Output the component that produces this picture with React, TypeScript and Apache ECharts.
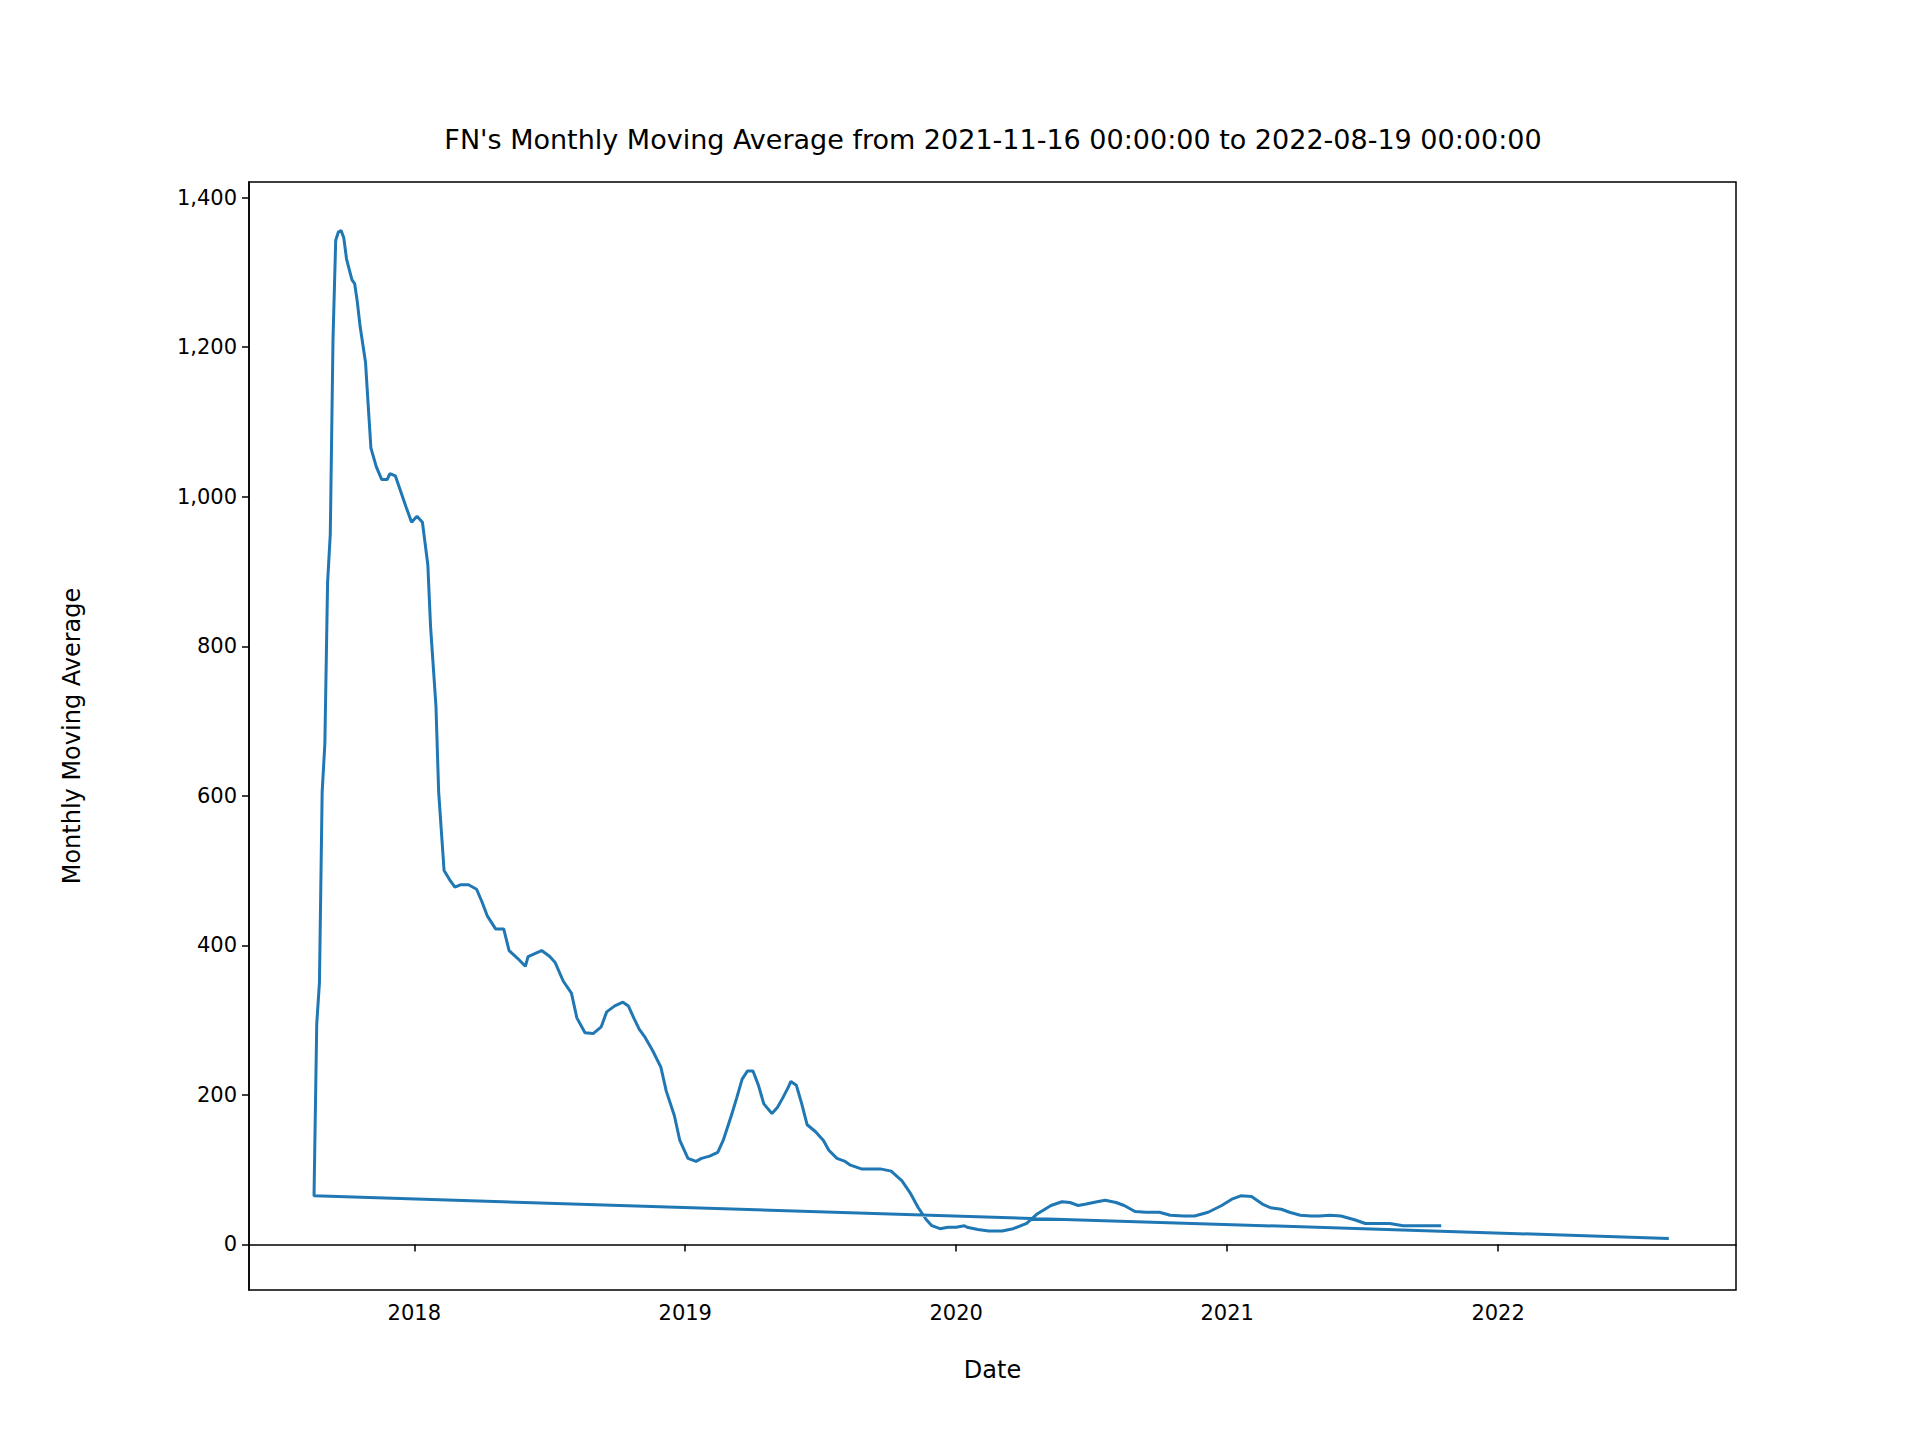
import React, { useEffect, useRef } from "react";
import * as echarts from "echarts";

const years = [2017.63,2017.64,2017.65,2017.66,2017.67,2017.68,2017.69,2017.70,2017.71,2017.72,2017.73,2017.74,2017.75,2017.77,2017.78,2017.79,2017.80,2017.82,2017.83,2017.84,2017.86,2017.88,2017.90,2017.91,2017.93,2017.95,2017.97,2017.99,2018.01,2018.03,2018.05,2018.06,2018.08,2018.09,2018.11,2018.13,2018.15,2018.17,2018.20,2018.23,2018.25,2018.27,2018.30,2018.33,2018.35,2018.38,2018.41,2018.42,2018.47,2018.50,2018.52,2018.55,2018.58,2018.60,2018.63,2018.66,2018.69,2018.71,2018.74,2018.77,2018.79,2018.81,2018.83,2018.85,2018.88,2018.91,2018.93,2018.96,2018.98,2019.01,2019.04,2019.06,2019.09,2019.12,2019.14,2019.17,2019.19,2019.21,2019.23,2019.25,2019.27,2019.29,2019.32,2019.34,2019.36,2019.38,2019.39,2019.41,2019.43,2019.45,2019.48,2019.51,2019.53,2019.56,2019.59,2019.61,2019.65,2019.69,2019.72,2019.76,2019.80,2019.83,2019.86,2019.89,2019.91,2019.94,2019.97,2020.00,2020.03,2020.04,2020.08,2020.12,2020.17,2020.21,2020.26,2020.30,2020.35,2020.39,2020.42,2020.45,2020.48,2020.52,2020.55,2020.59,2020.62,2020.66,2020.70,2020.75,2020.79,2020.84,2020.88,2020.93,2020.98,2021.02,2021.05,2021.09,2021.13,2021.16,2021.20,2021.23,2021.27,2021.31,2021.34,2021.38,2021.42,2021.47,2021.51,2021.56,2021.60,2021.65,2021.72,2021.79,2021.92,2022.63];
const values = [65,295,350,605,670,885,950,1210,1343,1354,1356,1346,1318,1290,1285,1260,1228,1180,1122,1065,1040,1023,1023,1031,1028,1007,986,966,974,966,909,827,720,605,500,488,478,481,481,475,458,439,422,422,393,383,372,385,393,385,377,352,336,303,283,282,291,311,319,324,319,303,288,278,259,237,205,172,139,115,111,115,118,123,139,172,196,221,232,232,213,188,175,183,196,210,218,213,188,160,151,139,126,115,111,106,101,101,101,98,85,69,49,33,25,21,23,23,25,23,20,18,18,21,28,41,52,57,56,52,54,57,59,56,52,44,43,43,39,38,38,43,52,61,65,64,54,49,47,43,39,38,38,39,38,33,28,28,28,25,25,25];
const startYear = 2022.63;
const startValue = 8;
const yTicks = [0,200,400,600,800,1000,1200,1400];
const xTickYears = [2018,2019,2020,2021,2022];

export default function App() {
  const ref = useRef<HTMLDivElement>(null);
  useEffect(() => {
    const chart = echarts.init(ref.current!, null, { renderer: "svg" });
    const data = [[startYear, startValue], ...years.map((y, i) => [y, values[i]])];
    const font = "DejaVu Sans";
    chart.setOption({
      animation: false,
      grid: { left: 241, right: 192, top: 174, bottom: 158, show: true, borderColor: "#000", borderWidth: 1.5, backgroundColor: "transparent" },
      graphic: [
        { type: "text", x: 985, y: 131, style: { text: "FN's Monthly Moving Average from 2021-11-16 00:00:00 to 2022-08-19 00:00:00", font: `27px '${font}'`, fill: "#000", textAlign: "center", textVerticalAlign: "middle" } },
      ],
      xAxis: {
        type: "value", min: 2017.39, max: 2022.878,
        name: "Date", nameLocation: "middle", nameGap: 68, nameTextStyle: { fontSize: 24, fontFamily: font, color: "#000" },
        splitLine: { show: false },
        axisLine: { lineStyle: { color: "#000", width: 1.5 } },
        axisTick: { show: true, length: 7, lineStyle: { color: "#000", width: 1.5 }, customValues: xTickYears },
        axisLabel: { fontSize: 21, fontFamily: font, color: "#000", margin: 12, customValues: xTickYears, formatter: (v: number) => String(v) },
      },
      yAxis: {
        type: "value", min: -61, max: 1421,
        name: "Monthly Moving Average", nameLocation: "middle", nameGap: 165, nameTextStyle: { fontSize: 24, fontFamily: font, color: "#000" },
        splitLine: { show: false },
        axisLine: { show: true, lineStyle: { color: "#000", width: 1.5 } },
        axisTick: { show: true, length: 7, lineStyle: { color: "#000", width: 1.5 }, customValues: yTicks },
        axisLabel: { fontSize: 21, fontFamily: font, color: "#000", margin: 12, customValues: yTicks },
      },
      series: [{ type: "line", data, showSymbol: false, lineStyle: { color: "#1f77b4", width: 3 }, itemStyle: { color: "#1f77b4" } }],
    });
    return () => chart.dispose();
  }, []);
  return <div ref={ref} style={{ width: 1920, height: 1440 }} />;
}
